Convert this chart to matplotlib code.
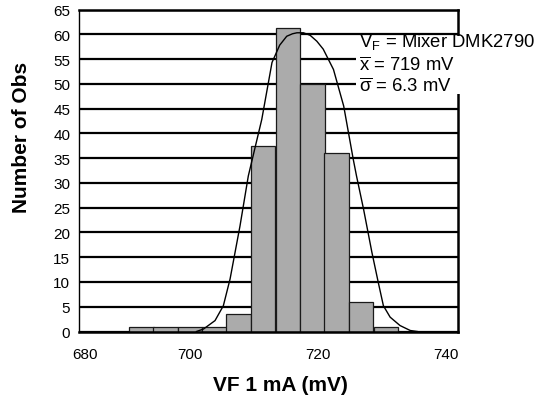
import matplotlib
matplotlib.use('Agg')
import matplotlib.pyplot as plt
from matplotlib.patches import Rectangle

plt.rcParams['font.family'] = ['Liberation Sans', 'DejaVu Sans']
plt.rcParams['mathtext.fontset'] = 'custom'
plt.rcParams['mathtext.rm'] = 'Liberation Sans'
plt.rcParams['mathtext.it'] = 'Liberation Sans:italic'
plt.rcParams['mathtext.bf'] = 'Liberation Sans:bold'

# ---- data ----
bin_centers = [692.4, 696.2, 700.0, 703.8, 707.6, 711.4, 715.3, 719.1, 722.9, 726.7, 730.6]
counts = [1, 1, 1, 1, 3.6, 37.5, 61.2, 50.0, 36.0, 5.9, 1]
bin_width = 3.82

curve_x = [701.0, 702.1, 703.9, 705.2, 706.25, 707.8, 709.1, 711.2, 712.8, 714.0,
           715.1, 716.0, 716.7, 717.7, 718.75, 719.8, 720.8, 722.4, 724.0, 725.5,
           726.0, 727.1, 728.4, 729.4, 730.2, 731.25, 732.8, 734.4, 735.5]
curve_y = [0.0, 0.5, 2.2, 5.2, 10.6, 21.3, 31.4, 42.8, 54.3, 57.8,
           59.6, 60.1, 60.3, 60.3, 59.8, 58.6, 57.0, 52.9, 45.5, 34.7,
           31.4, 24.7, 16.0, 9.9, 5.2, 2.9, 1.2, 0.2, 0.0]

x_tick_labels = ['680', '700', '720', '740']
y_ticks = [0, 5, 10, 15, 20, 25, 30, 35, 40, 45, 50, 55, 60, 65]
info_lines = [r'V$_\mathrm{F}$ = Mixer DMK2790',
              r'$\overline{\mathrm{x}}$ = 719 mV',
              r'$\overline{\mathrm{\sigma}}$ = 6.3 mV']

# ---- layout ----
W, H = 548, 406
fig = plt.figure(figsize=(W / 100, H / 100), dpi=100)
ax = fig.add_axes([79.3 / W, 1 - 332.5 / H, (458.3 - 79.3) / W, (332.5 - 10.5) / H])

ax.set_xlim(682.7, 741.9)
ax.set_ylim(0, 65)

ax.bar(bin_centers, counts, width=bin_width, color='#ababab',
       edgecolor='#1a1a1a', linewidth=0.9, zorder=2)
ax.plot(curve_x, curve_y, color='black', linewidth=1.0, zorder=3)

ax.set_yticks(y_ticks)
ax.set_xticks([683.6, 700, 720, 740])
ax.set_xticklabels(x_tick_labels)
ax.yaxis.grid(True, color='black', linewidth=1.6)
ax.xaxis.grid(False)
ax.set_axisbelow(True)
ax.tick_params(axis='both', length=0, labelsize=11)
ax.tick_params(axis='y', pad=6.5)
ax.tick_params(axis='x', pad=11)

ax.spines['left'].set_linewidth(1.0)
for s in ['right', 'top', 'bottom']:
    ax.spines[s].set_linewidth(1.8)

# white box behind statistics text
ax.add_patch(Rectangle((356 / W, 1 - 95 / H), (541 - 356) / W, (95 - 37) / H,
                       transform=fig.transFigure, facecolor='white',
                       edgecolor='none', zorder=4, clip_on=False))
baselines = [47.5, 71.0, 92.5]
for line, yb in zip(info_lines, baselines):
    ax.text(359 / W, 1 - yb / H, line, transform=fig.transFigure,
            fontsize=13.3, ha='left', va='baseline', zorder=5, clip_on=False)

fig.text(22 / W, 1 - 137 / H, 'Number of Obs', rotation=90, ha='center',
         va='center', fontsize=15, fontweight='bold')
fig.text(280 / W, 1 - 386 / H, 'VF 1 mA (mV)', ha='center', va='center',
         fontsize=15, fontweight='bold')

fig.savefig('out.png', dpi=100)
